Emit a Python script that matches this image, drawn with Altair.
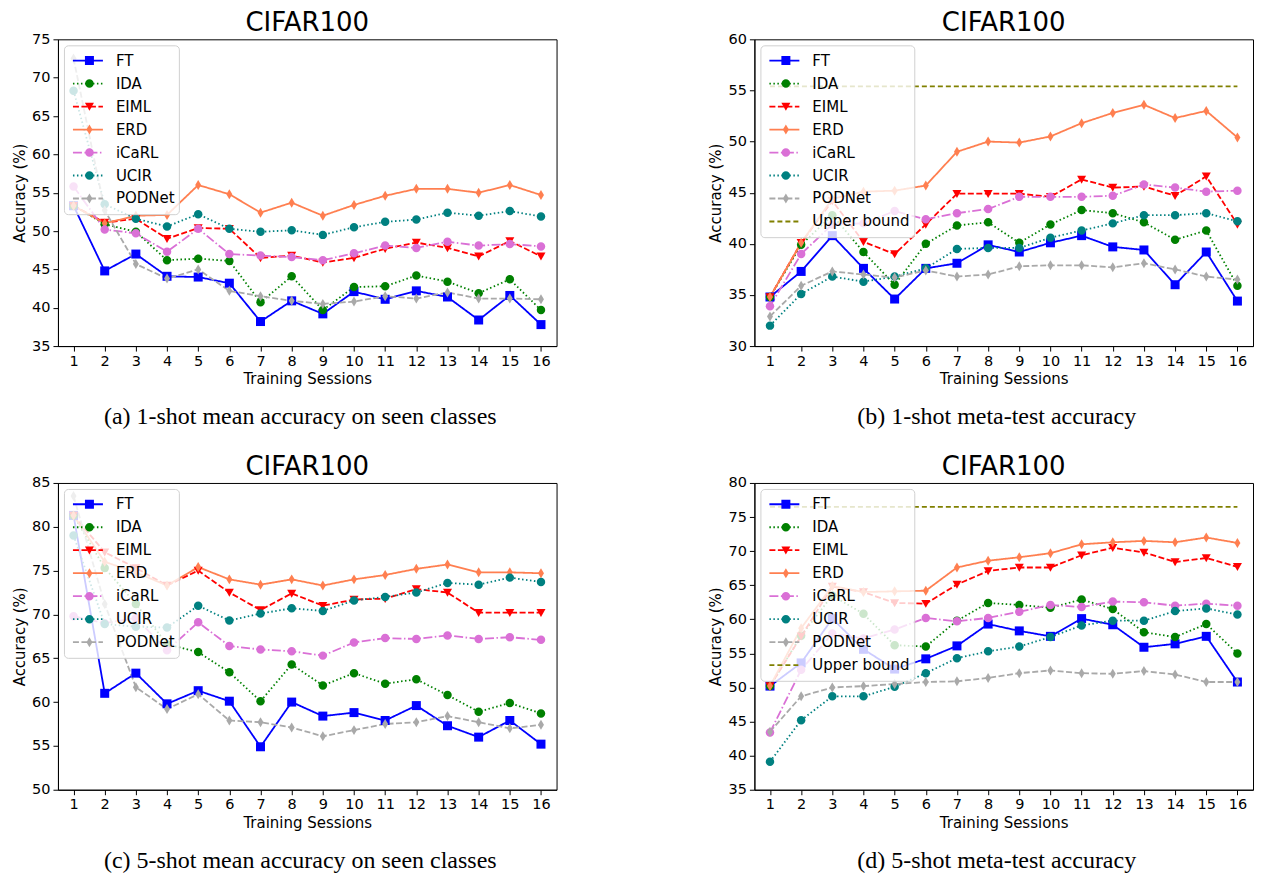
import altair as alt
import pandas as pd

sessions = list(range(1, 17))
methods = ["FT", "IDA", "EIML", "ERD", "iCaRL", "UCIR", "PODNet"]
colors = ["#0000ff", "#008000", "#ff0000", "#ff7f50", "#da70d6", "#008080", "#a9a9a9"]
upper_color = "#808000"
dashes = [[1, 0], [1.5, 2.5], [6, 2.5], [1, 0], [9, 2.5, 1.5, 2.5], [1.5, 2.5], [6, 2.5]]
upper_dash = [5, 3]
sq = "M-0.9,-0.9H0.9V0.9H-0.9Z"
circ = "M0.85,0A0.85,0.85 0 1,1 -0.85,0A0.85,0.85 0 1,1 0.85,0Z"
tri_down = "M-0.9,-0.75L0.9,-0.75L0,0.85Z"
thin_diamond = "M0,-1L0.6,0L0,1L-0.6,0Z"
shapes = [sq, circ, tri_down, thin_diamond, circ, circ, thin_diamond]

# (a) 1-shot mean accuracy on seen classes
a_FT = [53.3, 44.8, 47.0, 44.1, 44.0, 43.2, 38.2, 40.9, 39.2, 42.1, 41.1, 42.2, 41.4, 38.4, 41.6, 37.8]
a_IDA = [53.3, 50.9, 49.9, 46.2, 46.4, 46.1, 40.7, 44.1, 39.7, 42.7, 42.8, 44.2, 43.4, 41.9, 43.7, 39.7]
a_EIML = [53.3, 51.1, 51.6, 49.0, 50.4, 50.3, 46.5, 46.8, 45.9, 46.5, 47.7, 48.5, 47.8, 46.7, 48.7, 46.7]
a_ERD = [53.3, 51.0, 52.0, 52.1, 56.0, 54.8, 52.4, 53.7, 52.0, 53.4, 54.6, 55.5, 55.5, 55.0, 56.0, 54.7]
a_iCaRL = [55.8, 50.2, 49.7, 47.3, 50.3, 47.0, 46.8, 46.6, 46.2, 47.1, 48.1, 47.8, 48.6, 48.1, 48.3, 48.0]
a_UCIR = [68.3, 53.5, 51.6, 50.6, 52.2, 50.3, 49.9, 50.1, 49.5, 50.5, 51.2, 51.5, 52.4, 52.0, 52.6, 51.9]
a_PODNet = [72.5, 52.7, 45.7, 43.8, 45.0, 42.2, 41.5, 40.9, 40.5, 40.8, 41.5, 41.2, 42.0, 41.2, 41.2, 41.1]

# (b) 1-shot meta-test accuracy
b_FT = [34.8, 37.3, 40.8, 37.6, 34.6, 37.6, 38.1, 39.9, 39.2, 40.1, 40.8, 39.7, 39.4, 36.0, 39.2, 34.4]
b_IDA = [34.8, 39.9, 42.8, 39.2, 36.0, 40.0, 41.8, 42.1, 40.1, 41.9, 43.3, 43.0, 42.1, 40.4, 41.3, 35.9]
b_EIML = [34.8, 40.1, 44.2, 40.2, 39.0, 41.9, 44.9, 44.9, 44.9, 44.6, 46.3, 45.5, 45.6, 44.7, 46.6, 41.9]
b_ERD = [34.8, 40.1, 44.4, 45.1, 45.2, 45.7, 49.0, 50.0, 49.9, 50.5, 51.8, 52.8, 53.6, 52.3, 53.0, 50.4]
b_iCaRL = [33.9, 39.0, 41.9, 42.0, 43.2, 42.4, 43.0, 43.4, 44.6, 44.6, 44.6, 44.7, 45.8, 45.5, 45.1, 45.2]
b_UCIR = [32.0, 35.1, 36.8, 36.3, 36.8, 37.6, 39.5, 39.6, 39.6, 40.6, 41.3, 42.0, 42.8, 42.8, 43.0, 42.2]
b_PODNet = [32.9, 35.9, 37.3, 37.0, 36.7, 37.4, 36.8, 37.0, 37.8, 37.9, 37.9, 37.7, 38.1, 37.5, 36.8, 36.5]
b_upper = 55.4

# (c) 5-shot mean accuracy on seen classes
c_FT = [81.3, 61.0, 63.3, 59.8, 61.3, 60.1, 54.9, 60.0, 58.4, 58.8, 57.9, 59.6, 57.3, 56.0, 57.9, 55.2]
c_IDA = [81.3, 75.3, 71.2, 66.6, 65.7, 63.4, 60.1, 64.3, 61.9, 63.3, 62.1, 62.6, 60.8, 58.9, 59.9, 58.7]
c_EIML = [81.3, 77.1, 75.3, 73.3, 75.0, 72.5, 70.5, 72.4, 71.0, 71.7, 71.8, 72.9, 72.5, 70.2, 70.2, 70.2]
c_ERD = [81.3, 76.0, 74.8, 73.3, 75.4, 74.0, 73.4, 74.0, 73.3, 74.0, 74.5, 75.2, 75.7, 74.8, 74.8, 74.7]
c_iCaRL = [69.8, 69.0, 69.6, 65.9, 69.1, 66.4, 66.0, 65.8, 65.3, 66.8, 67.3, 67.2, 67.6, 67.2, 67.4, 67.1]
c_UCIR = [79.0, 68.9, 68.6, 68.5, 71.0, 69.3, 70.1, 70.7, 70.4, 71.6, 72.0, 72.5, 73.6, 73.4, 74.2, 73.7]
c_PODNet = [83.5, 71.2, 61.7, 59.2, 60.9, 57.9, 57.7, 57.1, 56.1, 56.8, 57.5, 57.7, 58.4, 57.7, 57.0, 57.4]

# (d) 5-shot meta-test accuracy
d_FT = [50.2, 53.6, 60.1, 55.6, 52.7, 54.2, 56.1, 59.3, 58.3, 57.5, 60.1, 59.2, 55.9, 56.4, 57.5, 50.8]
d_IDA = [50.2, 57.6, 63.5, 60.8, 56.2, 56.0, 59.8, 62.4, 62.1, 61.7, 62.9, 61.5, 58.1, 57.4, 59.3, 55.0]
d_EIML = [50.2, 57.5, 64.8, 64.0, 62.4, 62.3, 65.1, 67.1, 67.6, 67.6, 69.4, 70.5, 69.8, 68.4, 69.0, 67.7]
d_ERD = [50.2, 58.7, 64.9, 64.0, 64.1, 64.2, 67.6, 68.6, 69.1, 69.7, 71.0, 71.3, 71.5, 71.3, 72.0, 71.2]
d_iCaRL = [43.4, 52.6, 57.9, 57.2, 58.5, 60.2, 59.7, 60.2, 61.1, 62.1, 61.8, 62.6, 62.5, 62.0, 62.3, 62.0]
d_UCIR = [39.1, 45.2, 48.7, 48.7, 50.1, 52.1, 54.3, 55.3, 56.0, 57.4, 59.1, 59.8, 59.8, 61.2, 61.6, 60.7]
d_PODNet = [43.5, 48.7, 50.0, 50.2, 50.5, 50.8, 50.9, 51.4, 52.1, 52.5, 52.1, 52.0, 52.4, 51.9, 50.8, 50.8]
d_upper = 76.5

captions = [
    "(a) 1-shot mean accuracy on seen classes",
    "(b) 1-shot meta-test accuracy",
    "(c) 5-shot mean accuracy on seen classes",
    "(d) 5-shot meta-test accuracy",
]
y_ranges = [(35, 75), (30, 60), (50, 85), (35, 80)]

W, H = 499, 307
FONT = "DejaVu Sans"
MSIZE = 100
RES = dict(color="independent", strokeDash="independent", fill="independent", shape="independent")


def panel(series, upper, yr, caption):
    rows, prow = [], []
    for m, vals in zip(methods, series):
        for s, v in zip(sessions, vals):
            rows.append({"session": s, "acc": v, "method": m})
            prow.append({"session": s, "acc": v, "pm": "p_" + m})
    dom = list(methods)
    crange = list(colors)
    drange = list(dashes)
    if upper is not None:
        for s in (sessions[0], sessions[-1]):
            rows.append({"session": s, "acc": upper, "method": "Upper bound"})
        dom.append("Upper bound")
        crange.append(upper_color)
        drange.append(upper_dash)
    ldf = pd.DataFrame(rows)
    pdf = pd.DataFrame(prow)
    pdom = ["p_" + m for m in methods]

    xenc = alt.X("session:Q", scale=alt.Scale(domain=[0.5, 16.5], nice=False, zero=False),
                 axis=alt.Axis(values=sessions, title="Training Sessions", format="d"))
    yenc = alt.Y("acc:Q", scale=alt.Scale(domain=list(yr), nice=False, zero=False),
                 axis=alt.Axis(values=list(range(yr[0], yr[1] + 1, 5)), title="Accuracy (%)"))

    line_leg = alt.Legend(title=None, orient="none", legendX=6, legendY=6, symbolType="stroke",
                          symbolSize=900, symbolStrokeWidth=1.8, clipHeight=22.6, rowPadding=0,
                          padding=4, symbolOffset=4, labelOffset=12, labelFontSize=15,
                          labelFont=FONT, labelColor="black", fillColor="rgba(255,255,255,0.8)",
                          strokeColor="#d0d0d0", cornerRadius=4, zindex=1, labelLimit=300)
    shape_leg = alt.Legend(title=None, orient="none", legendX=6, legendY=6, symbolSize=MSIZE,
                           clipHeight=22.6, rowPadding=0, padding=4, symbolOffset=14,
                           labelOpacity=0, labelFontSize=15, labelFont=FONT, zindex=2,
                           symbolStrokeWidth=0, symbolOpacity=1, labelLimit=300)

    lines = alt.Chart(ldf).mark_line(strokeWidth=1.8).encode(
        x=xenc, y=yenc,
        color=alt.Color("method:N", scale=alt.Scale(domain=dom, range=crange), legend=line_leg),
        strokeDash=alt.StrokeDash("method:N", scale=alt.Scale(domain=dom, range=drange), legend=line_leg),
        detail="method:N",
    )
    points = alt.Chart(pdf).mark_point(filled=True, opacity=1, size=MSIZE, strokeWidth=0).encode(
        x=xenc, y=yenc,
        fill=alt.Fill("pm:N", scale=alt.Scale(domain=pdom, range=colors), legend=shape_leg),
        shape=alt.Shape("pm:N", scale=alt.Scale(domain=pdom, range=shapes), legend=shape_leg),
    )
    cap = alt.Chart(pd.DataFrame({"t": [caption]})).mark_text(
        font="Liberation Serif", fontSize=24, align="center", baseline="middle", color="black"
    ).encode(x=alt.value(W / 2 - 7), y=alt.value(H + 71), text="t:N")

    return alt.layer(lines, points, cap).properties(
        width=W, height=H,
        title=alt.TitleParams("CIFAR100", fontSize=26, font=FONT, fontWeight="normal",
                              color="black", offset=-5, anchor="middle"),
    )


pa = panel([a_FT, a_IDA, a_EIML, a_ERD, a_iCaRL, a_UCIR, a_PODNet], None, y_ranges[0], captions[0])
pb = panel([b_FT, b_IDA, b_EIML, b_ERD, b_iCaRL, b_UCIR, b_PODNet], b_upper, y_ranges[1], captions[1])
pc = panel([c_FT, c_IDA, c_EIML, c_ERD, c_iCaRL, c_UCIR, c_PODNet], None, y_ranges[2], captions[2])
pd_ = panel([d_FT, d_IDA, d_EIML, d_ERD, d_iCaRL, d_UCIR, d_PODNet], d_upper, y_ranges[3], captions[3])

LEGRES = dict(color="independent", strokeDash="independent", fill="independent", shape="independent")
row1 = alt.hconcat(pa, pb, spacing=151).resolve_scale(**RES).resolve_legend(**LEGRES)
row2 = alt.hconcat(pc, pd_, spacing=151).resolve_scale(**RES).resolve_legend(**LEGRES)

chart = alt.vconcat(row1, row2, spacing=23).resolve_scale(**RES).resolve_legend(**LEGRES).properties(
    padding={"left": 4, "top": 1, "right": 0, "bottom": 0}
).configure_view(stroke="black", strokeWidth=1).configure_axis(
    grid=False, domainColor="black", tickColor="black", tickSize=5, labelFont=FONT,
    labelFontSize=14.5, labelColor="black", titleFont=FONT, titleFontSize=15,
    titleFontWeight="normal", titleColor="black", labelPadding=3, titlePadding=4,
)

chart.save("out.html", embed_options={"renderer": "svg", "actions": False})
